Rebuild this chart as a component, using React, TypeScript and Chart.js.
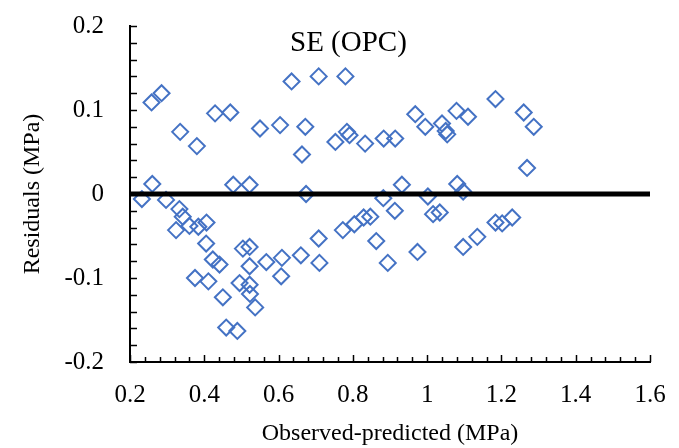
import React, { useEffect, useRef } from 'react';
import { Chart, registerables } from 'chart.js';

Chart.register(...registerables);

// Observed-predicted (MPa) for each specimen
const observedPredicted = [
  0.258, 0.285, 0.335, 0.380, 0.429, 0.470, 0.550, 0.604, 0.635, 0.672,
  0.663, 0.708, 0.780, 0.753, 0.784, 0.791, 0.833, 0.883, 0.914, 0.968,
  0.995, 1.040, 1.050, 1.054, 1.079, 1.110, 1.184, 1.260, 1.287, 1.269,
  0.260, 0.478, 0.522, 0.932, 1.081, 1.097, 0.674, 0.882, 1.002, 0.232,
  0.297, 0.333, 0.342, 0.324, 0.360, 0.384, 0.406, 0.405, 0.423, 0.441,
  0.375, 0.411, 0.450, 0.459, 0.489, 0.504, 0.522, 0.522, 0.567, 0.495,
  0.522, 0.523, 0.537, 0.609, 0.607, 0.660, 0.708, 0.710, 0.773, 0.804,
  0.829, 0.847, 0.863, 0.894, 0.913, 0.974, 1.016, 1.034, 1.097, 1.135,
  1.184, 1.202, 1.229,
];

// Residuals (MPa) for each specimen
const residuals = [
  0.109, 0.120, 0.074, 0.057, 0.096, 0.097, 0.078, 0.082, 0.134, 0.080,
  0.047, 0.140, 0.140, 0.062, 0.074, 0.070, 0.060, 0.066, 0.066, 0.095,
  0.080, 0.084, 0.075, 0.071, 0.099, 0.092, 0.113, 0.097, 0.080, 0.031,
  0.012, 0.011, 0.011, 0.011, 0.012, 0.003, 0.000, -0.005, -0.003, -0.006,
  -0.007, -0.018, -0.027, -0.043, -0.038, -0.039, -0.034, -0.059, -0.078, -0.084,
  -0.100, -0.104, -0.123, -0.159, -0.163, -0.065, -0.063, -0.086, -0.081, -0.106,
  -0.108, -0.119, -0.135, -0.076, -0.098, -0.073, -0.053, -0.082, -0.043, -0.036,
  -0.028, -0.027, -0.056, -0.082, -0.020, -0.069, -0.024, -0.022, -0.063, -0.051,
  -0.034, -0.035, -0.028,
];

// Zero reference line
const zeroLineX = [0.2, 1.6];
const zeroLineY = [0, 0];

const xTickLabels = ['0.2', '0.4', '0.6', '0.8', '1', '1.2', '1.4', '1.6'];
const yTickLabels = ['-0.2', '-0.1', '0', '0.1', '0.2'];

const panelTitle = 'SE (OPC)';
const xAxisTitle = 'Observed-predicted (MPa)';
const yAxisTitle = 'Residuals (MPa)';

const FONT = "'Liberation Serif', 'Times New Roman', serif";

const innerTicksPlugin = {
  id: 'innerTicks',
  afterDraw(chart: any) {
    const { ctx, chartArea, scales } = chart;
    const xs = scales.x;
    const ys = scales.y;
    ctx.save();
    ctx.strokeStyle = '#000';
    ctx.lineWidth = 1.5;
    // x minor/major ticks, pointing up into the plot
    for (let i = 0; i <= 35; i++) {
      const v = 0.2 + i * 0.04;
      const px = Math.round(xs.getPixelForValue(v)) + 0.5;
      const len = i % 5 === 0 ? 7 : 5;
      ctx.beginPath();
      ctx.moveTo(px, chartArea.bottom);
      ctx.lineTo(px, chartArea.bottom - len);
      ctx.stroke();
    }
    // y ticks, pointing right into the plot
    for (let i = 0; i <= 20; i++) {
      const v = -0.2 + i * 0.02;
      const py = Math.round(ys.getPixelForValue(v)) + 0.5;
      ctx.beginPath();
      ctx.moveTo(chartArea.left, py);
      ctx.lineTo(chartArea.left + 7, py);
      ctx.stroke();
    }
    // panel title
    ctx.fillStyle = '#000';
    ctx.font = `29px ${FONT}`;
    ctx.textAlign = 'left';
    ctx.textBaseline = 'alphabetic';
    ctx.fillText(panelTitle, chartArea.left + 160, chartArea.top + 25);
    ctx.restore();
  },
};

export default function App() {
  const canvasRef = useRef<HTMLCanvasElement | null>(null);

  useEffect(() => {
    document.body.style.margin = '0';
    const canvas = canvasRef.current;
    if (!canvas) return;
    const points = observedPredicted.map((x, i) => ({ x, y: residuals[i] }));
    const zero = zeroLineX.map((x, i) => ({ x, y: zeroLineY[i] }));

    const chart = new Chart(canvas, {
      type: 'scatter',
      data: {
        datasets: [
          {
            label: 'Zero',
            data: zero,
            showLine: true,
            borderColor: '#000',
            borderWidth: 5,
            borderCapStyle: 'square',
            pointRadius: 0,
            order: 0,
          } as any,
          {
            label: 'Residuals',
            data: points,
            pointStyle: 'rectRot',
            pointRadius: 8,
            pointBorderWidth: 2,
            borderColor: '#4472C4',
            backgroundColor: 'rgba(0,0,0,0)',
            pointBackgroundColor: 'rgba(0,0,0,0)',
            pointBorderColor: '#4472C4',
            order: 1,
          } as any,
        ],
      },
      options: {
        responsive: false,
        animation: false,
        layout: { padding: { left: 0, top: 26, right: 29, bottom: 0 } },
        plugins: {
          legend: { display: false },
          tooltip: { enabled: false },
          title: { display: false },
        },
        scales: {
          x: {
            type: 'linear',
            min: 0.2,
            max: 1.6,
            grid: {
              display: true,
              drawOnChartArea: false,
              drawTicks: true,
              tickLength: 18,
              color: 'rgba(0,0,0,0)',
            },
            border: { display: true, color: '#000', width: 2 },
            ticks: {
              stepSize: 0.2,
              padding: 0,
              color: '#000',
              font: { family: FONT, size: 25 },
              maxRotation: 0,
              autoSkip: false,
              callback: (_v: any, i: number) => xTickLabels[i],
            },
            title: {
              display: true,
              text: xAxisTitle,
              color: '#000',
              font: { family: FONT, size: 24 },
              padding: { top: 0, bottom: 0 },
            },
            afterFit: (s: any) => {
              s.height = 86;
            },
          },
          y: {
            type: 'linear',
            min: -0.2,
            max: 0.2,
            grid: {
              display: true,
              drawOnChartArea: false,
              drawTicks: true,
              tickLength: 26,
              color: 'rgba(0,0,0,0)',
            },
            border: { display: true, color: '#000', width: 2 },
            ticks: {
              stepSize: 0.1,
              padding: 0,
              color: '#000',
              font: { family: FONT, size: 25 },
              autoSkip: false,
              callback: (_v: any, i: number) => yTickLabels[i],
            },
            title: {
              display: true,
              text: yAxisTitle,
              color: '#000',
              font: { family: FONT, size: 24 },
              padding: { top: 18, bottom: 0 },
            },
            afterFit: (s: any) => {
              s.width = 130;
            },
          },
        },
      },
      plugins: [innerTicksPlugin],
    });
    return () => chart.destroy();
  }, []);

  return (
    <div style={{ width: 679, height: 448 }}>
      <canvas ref={canvasRef} width={679} height={448} />
    </div>
  );
}
